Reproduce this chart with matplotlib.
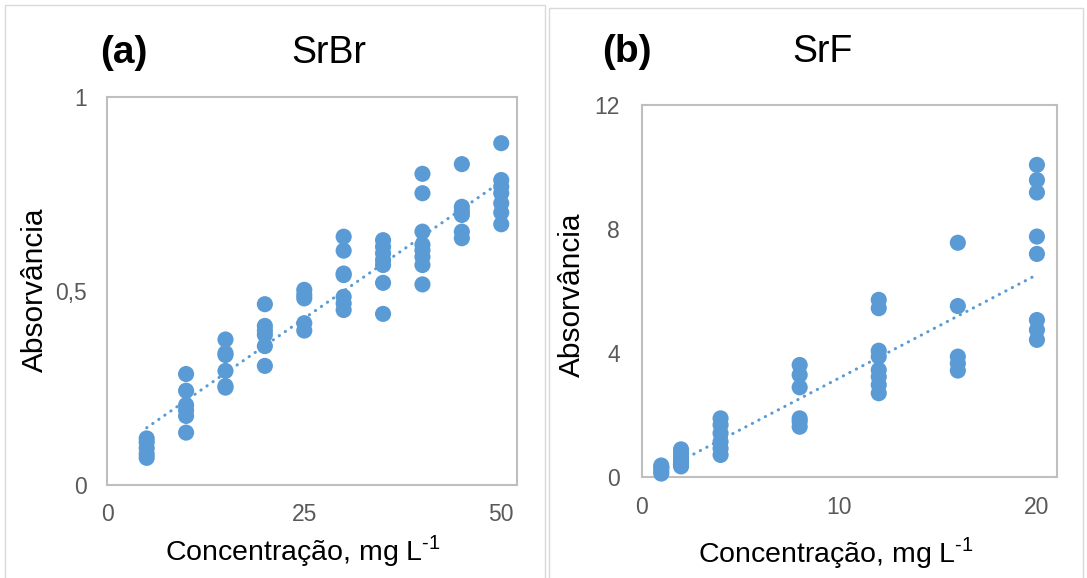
import numpy as np
import matplotlib.pyplot as plt
from matplotlib.patches import Rectangle

plt.rcParams['font.family'] = ['Liberation Sans', 'DejaVu Sans']
plt.rcParams['mathtext.fontset'] = 'custom'
plt.rcParams['mathtext.rm'] = 'Liberation Sans'

# SrBr: absorbance readings per standard concentration (mg/L)
srbr_conc = [5, 10, 15, 20, 25, 30, 35, 40, 45, 50]
srbr_abs = [
    [0.12, 0.11, 0.095, 0.08, 0.07],
    [0.286, 0.243, 0.206, 0.193, 0.178, 0.135],
    [0.375, 0.34, 0.335, 0.294, 0.255, 0.251],
    [0.466, 0.41, 0.398, 0.387, 0.358, 0.307],
    [0.503, 0.49, 0.481, 0.417, 0.398],
    [0.64, 0.604, 0.545, 0.541, 0.485, 0.468, 0.451],
    [0.631, 0.614, 0.597, 0.58, 0.567, 0.521, 0.441],
    [0.802, 0.752, 0.653, 0.619, 0.605, 0.588, 0.567, 0.517],
    [0.827, 0.717, 0.705, 0.696, 0.653, 0.636],
    [0.881, 0.786, 0.769, 0.752, 0.726, 0.702, 0.672],
]
srbr_trend = [0.0141, 0.077]   # slope, intercept

# SrF
srf_conc = [1, 2, 4, 8, 12, 16, 20]
srf_abs = [
    [0.38, 0.3, 0.2, 0.12],
    [0.9, 0.78, 0.65, 0.55, 0.45, 0.35],
    [1.9, 1.69, 1.42, 1.15, 0.93, 0.72],
    [3.62, 3.3, 2.9, 1.9, 1.8, 1.63],
    [5.72, 5.45, 4.08, 3.89, 3.46, 3.24, 2.98, 2.71],
    [7.56, 5.52, 3.89, 3.67, 3.44],
    [10.07, 9.58, 9.18, 7.76, 7.2, 5.07, 4.75, 4.43],
]
srf_trend = [0.333, -0.13]

blue = '#5B9BD5'
grey_axis = '#BFBFBF'
grey_text = '#595959'


def flatten(conc, vals):
    x = np.concatenate([[c] * len(v) for c, v in zip(conc, vals)])
    y = np.concatenate(vals)
    return x, y


def draw(ax, conc, vals, trend, xlim, ylim, xticks, yticks, ylabels, xpad, ypad):
    x, y = flatten(conc, vals)
    ax.scatter(x, y, s=135, color=blue, edgecolors='none', zorder=3, clip_on=False)
    # linear trendline over the measured range
    k, b = trend
    xx = np.array([min(conc), max(conc)])
    ax.plot(xx, k * xx + b, color=blue, lw=2.2,
            linestyle=(0, (0.1, 2.3)), dash_capstyle='round', zorder=2)
    ax.set_xlim(*xlim)
    ax.set_ylim(*ylim)
    ax.set_xticks(xticks)
    ax.set_yticks(yticks)
    ax.set_yticklabels(ylabels)
    ax.tick_params(length=0, labelsize=16.5, labelcolor=grey_text)
    ax.tick_params(axis='x', pad=xpad)
    ax.tick_params(axis='y', pad=ypad)
    for s in ax.spines.values():
        s.set_color(grey_axis)
        s.set_linewidth(1.5)
    ax.set_xlabel(r'Concentração, mg L$^{\mathregular{\text{-}1}}$', fontsize=20.5, va='center')
    ax.set_ylabel('Absorvância', fontsize=21.5, va='center')


W, H = 1087, 578
fig = plt.figure(figsize=(W / 100, H / 100), dpi=100)

# chart area frames
fig.patches.append(Rectangle((5 / W, -0.05), 540 / W, 1.05 - 5 / H, transform=fig.transFigure,
                             fill=False, edgecolor='#D9D9D9', lw=1))
fig.patches.append(Rectangle((549 / W, -0.05), 534 / W, 1.05 - 8 / H, transform=fig.transFigure,
                             fill=False, edgecolor='#D9D9D9', lw=1))

ax1 = fig.add_axes([107.3 / W, 1 - 485 / H, 409.7 / W, 388 / H])
draw(ax1, srbr_conc, srbr_abs, srbr_trend, (0, 52), (0, 1), [0, 25, 50],
     [0, 0.5, 1], ['0', '0,5', '1'], xpad=13, ypad=14.5)
ax1.xaxis.set_label_coords(0.478, -0.170)
ax1.yaxis.set_label_coords(-0.176, 0.503)

ax2 = fig.add_axes([641.5 / W, 1 - 477.3 / H, 415.2 / W, 372.3 / H])
draw(ax2, srf_conc, srf_abs, srf_trend, (0, 21), (0, 12), [0, 10, 20],
     [0, 4, 8, 12], ['0', '4', '8', '12'], xpad=13.5, ypad=15.5)
ax2.xaxis.set_label_coords(0.467, -0.203)
ax2.yaxis.set_label_coords(-0.167, 0.49)

fig.text(124 / W, 1 - 63 / H, '(a)', fontsize=28, fontweight='bold', ha='center', va='baseline')
fig.text(329 / W, 1 - 63 / H, 'SrBr', fontsize=27, ha='center', va='baseline')
fig.text(627 / W, 1 - 62 / H, '(b)', fontsize=28, fontweight='bold', ha='center', va='baseline')
fig.text(823 / W, 1 - 62 / H, 'SrF', fontsize=27, ha='center', va='baseline')

fig.savefig('out.png', dpi=100)
